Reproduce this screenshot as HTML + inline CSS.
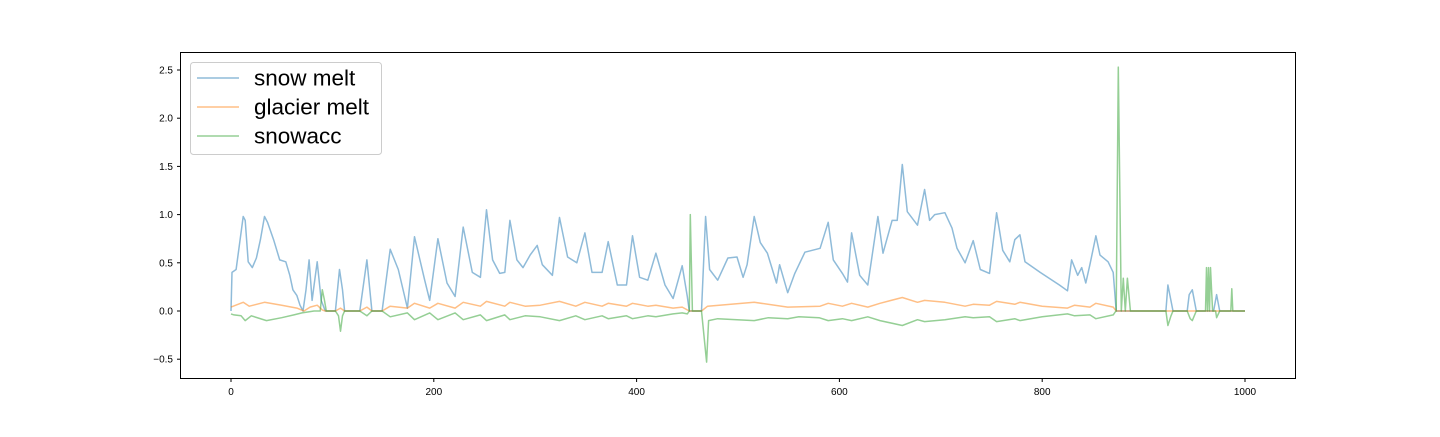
<!DOCTYPE html>
<html><head><meta charset="utf-8"><style>
body{margin:0;background:#fff;}
svg text{font-family:"Liberation Sans","DejaVu Sans",sans-serif;}
</style></head><body>
<svg id="chart" width="1440" height="432" xmlns="http://www.w3.org/2000/svg">
<rect x="0" y="0" width="1440" height="432" fill="#fff"/>
<g id="plot"></g>
<rect x="180.5" y="52.5" width="1115" height="326" fill="none" stroke="#000" stroke-width="1"/>
<g id="axes"></g>
<g>
<rect x="190.5" y="62.5" width="191" height="92" rx="3" fill="#fff" fill-opacity="0.8" stroke="#ccc"/>
<line x1="197" y1="78" x2="239" y2="78" stroke="#1f77b4" stroke-opacity="0.5" stroke-width="1.5"/>
<text x="254" y="85.5" font-size="22.5">snow melt</text>
<line x1="197" y1="107" x2="239" y2="107" stroke="#ff7f0e" stroke-opacity="0.5" stroke-width="1.5"/>
<text x="254" y="114.5" font-size="22.5">glacier melt</text>
<line x1="197" y1="136" x2="239" y2="136" stroke="#2ca02c" stroke-opacity="0.5" stroke-width="1.5"/>
<text x="254" y="143.5" font-size="22.5">snowacc</text>
</g>
</svg>
<script>
const xTicks=[0,200,400,600,800,1000];
const yTicks=[-0.5,0.0,0.5,1.0,1.5,2.0,2.5];
const snowX=[0,1,5,9,12,14,17,21,25,29,33,36,42,48,54,58,61,65,68,71,74,77,80,82,85,89,93,103,107,110,112,127,134,139,149,157,165,174,181,191,196,204,213,221,229,238,246,252,258,265,270,275,282,288,295,302,307,317,324,332,341,349,356,366,372,381,390,396,403,411,419,428,436,445,450,452,464,468,472,480,490,499,505,509,516,522,529,538,541,549,556,566,581,589,594,603,608,612,620,628,638,643,652,657,662,667,677,684,689,694,704,711,716,724,732,739,748,755,761,768,773,778,783,798,817,825,829,835,839,843,847,853,857,865,870,873,922,924,929,943,945,948,952,969,972,975,1000];
const snowV=[0,0.40,0.43,0.74,0.98,0.94,0.51,0.45,0.55,0.74,0.98,0.92,0.74,0.53,0.51,0.37,0.22,0.16,0.06,0,0.22,0.53,0.11,0.27,0.51,0.11,0,0,0.43,0.22,0,0,0.53,0,0,0.64,0.43,0.03,0.77,0.32,0.11,0.75,0.29,0.15,0.87,0.40,0.35,1.05,0.53,0.39,0.40,0.94,0.53,0.45,0.58,0.68,0.48,0.37,0.97,0.56,0.50,0.81,0.40,0.40,0.72,0.27,0.27,0.78,0.35,0.32,0.60,0.27,0.13,0.47,0.15,0,0,0.98,0.43,0.32,0.55,0.56,0.35,0.48,0.98,0.71,0.60,0.29,0.48,0.19,0.39,0.61,0.65,0.92,0.53,0.39,0.30,0.81,0.37,0.27,0.98,0.60,0.94,0.94,1.52,1.03,0.89,1.26,0.94,1.0,1.02,0.86,0.65,0.50,0.73,0.43,0.39,1.02,0.63,0.51,0.74,0.79,0.51,0.40,0.27,0.21,0.53,0.37,0.45,0.29,0.48,0.78,0.58,0.51,0.40,0,0,0.27,0,0,0.17,0.22,0,0,0.17,0,0];
const glacX=[0,12,18,33,50,65,72,78,85,90,93,103,108,112,127,134,139,149,157,174,181,196,204,221,229,246,252,270,275,290,305,324,340,349,366,372,390,396,411,419,436,445,452,464,470,516,549,581,589,603,612,628,640,662,677,684,704,724,732,748,755,773,778,800,825,832,847,853,870,873,1000];
const glacV=[0.04,0.09,0.05,0.09,0.06,0.03,0.0,0.04,0.06,0.01,0,0,0.03,0,0,0.04,0,0,0.05,0.03,0.08,0.03,0.08,0.03,0.09,0.05,0.10,0.05,0.09,0.05,0.06,0.10,0.05,0.09,0.05,0.08,0.05,0.08,0.05,0.06,0.03,0.04,0,0,0.05,0.09,0.04,0.05,0.08,0.05,0.08,0.04,0.08,0.14,0.09,0.11,0.09,0.05,0.07,0.06,0.10,0.07,0.09,0.05,0.03,0.06,0.04,0.08,0.04,0,0];
const accX=[0,3,10,14,20,35,50,62,70,82,88,90,92,94,103,106,108,110,112,127,134,139,149,157,174,181,196,204,221,229,246,252,270,275,290,305,324,340,349,366,372,390,396,411,419,436,445,450,452,453,455,464,469,471,480,516,530,549,560,580,589,603,612,628,640,662,677,684,704,724,732,748,755,773,778,800,825,832,847,853,870,872,873,875,878,880,882,884,887,922,924,927,929,943,946,948,952,961,962,963,964,965,966,968,971,972,975,986,987,988,1000];
const accV=[-0.03,-0.04,-0.05,-0.1,-0.05,-0.1,-0.07,-0.04,-0.02,0,0,0.22,0.12,0,0,-0.05,-0.21,-0.05,0,0,-0.05,0,0,-0.06,-0.02,-0.09,-0.02,-0.09,-0.02,-0.09,-0.04,-0.1,-0.04,-0.09,-0.05,-0.06,-0.1,-0.05,-0.09,-0.05,-0.08,-0.05,-0.08,-0.05,-0.06,-0.03,-0.02,-0.03,0,1.0,0,0,-0.53,-0.1,-0.08,-0.1,-0.07,-0.08,-0.06,-0.07,-0.1,-0.08,-0.1,-0.06,-0.1,-0.15,-0.09,-0.11,-0.09,-0.06,-0.07,-0.06,-0.11,-0.08,-0.1,-0.06,-0.03,-0.05,-0.04,-0.08,-0.04,-0.01,0,2.53,0,0.34,0,0.34,0,0,-0.15,-0.05,0,0,-0.08,-0.1,0,0,0.45,0,0.45,0,0.45,0,0,-0.07,0,0,0.23,0,0];

const NS='http://www.w3.org/2000/svg';
function xs(d){return 231+d*1.014;}
function ys(v){return 311-v*96.4;}
const plot=document.getElementById('plot');
const axes=document.getElementById('axes');
function series(X,V,color,name){
  const p=document.createElementNS(NS,'path');
  let d='';
  for(let i=0;i<X.length;i++){d+=(i?'L':'M')+xs(X[i]).toFixed(1)+' '+ys(V[i]).toFixed(1);}
  p.setAttribute('d',d);
  p.setAttribute('fill','none');
  p.setAttribute('stroke',color);
  p.setAttribute('stroke-opacity','0.5');
  p.setAttribute('stroke-width','1.5');
  p.setAttribute('stroke-linejoin','round');
  
  
  plot.appendChild(p);
}
series(snowX,snowV,'#1f77b4','snow-melt-line');
series(glacX,glacV,'#ff7f0e','glacier-melt-line');
series(accX,accV,'#2ca02c','snowacc-line');
xTicks.forEach(t=>{
  const x=xs(t);
  const l=document.createElementNS(NS,'line');
  l.setAttribute('x1',x);l.setAttribute('x2',x);l.setAttribute('y1',378.5);l.setAttribute('y2',382);
  l.setAttribute('stroke','#000');
  
  
  axes.appendChild(l);
  const tx=document.createElementNS(NS,'text');
  tx.setAttribute('x',x);tx.setAttribute('y',395);tx.setAttribute('font-size','10');tx.setAttribute('text-anchor','middle');
  tx.textContent=String(t);
  
  
  axes.appendChild(tx);
});
yTicks.forEach(t=>{
  const y=ys(t);
  const l=document.createElementNS(NS,'line');
  l.setAttribute('x1',177);l.setAttribute('x2',180.5);l.setAttribute('y1',y);l.setAttribute('y2',y);
  l.setAttribute('stroke','#000');
  
  
  axes.appendChild(l);
  const tx=document.createElementNS(NS,'text');
  tx.setAttribute('x',173);tx.setAttribute('y',y+3.5);tx.setAttribute('font-size','10');tx.setAttribute('text-anchor','end');
  tx.textContent=(t<0?'\u22120.5':t.toFixed(1));
  
  
  axes.appendChild(tx);
});
</script>
</body></html>
